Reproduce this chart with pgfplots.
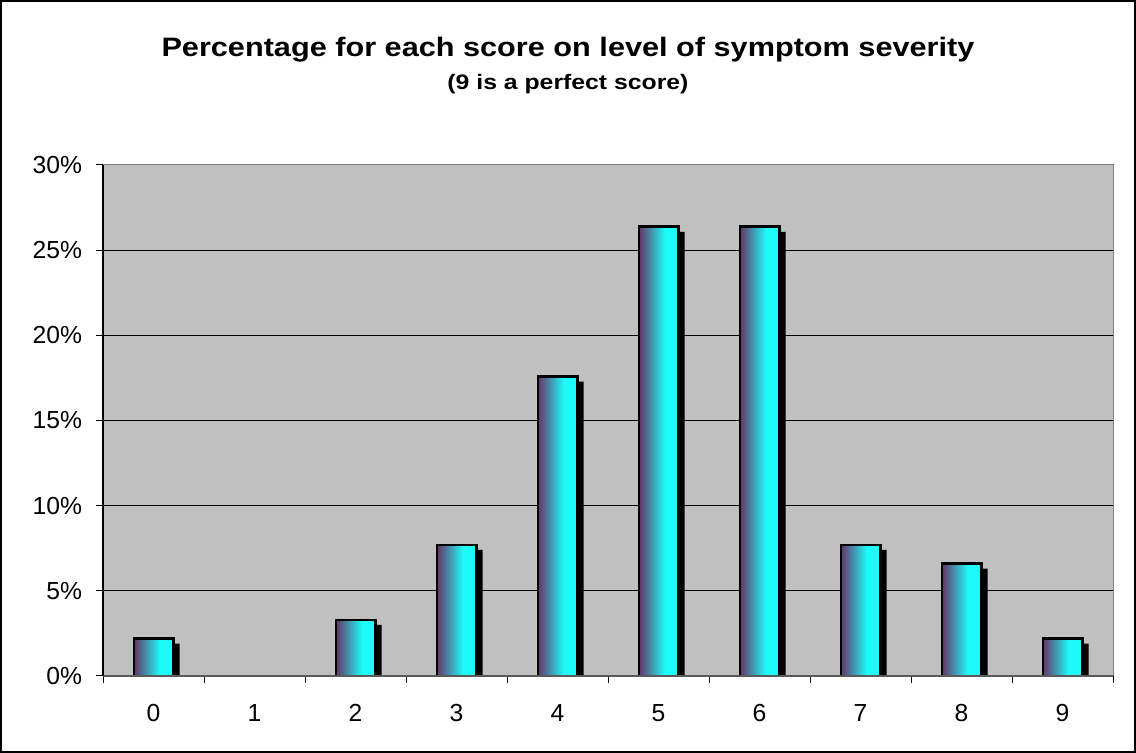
\documentclass[border=0pt]{standalone}
\usepackage{pgfplots}
\pgfplotsset{compat=1.18}
\usepackage{pgfplotstable}
\usepackage{fontspec}
\setmainfont{Liberation Sans}
\definecolor{barpurple}{RGB}{102,51,102}
\definecolor{barcyan}{RGB}{30,250,250}
\definecolor{plotbg}{RGB}{192,192,192}
\definecolor{framegray}{RGB}{128,128,128}
\definecolor{basegray}{RGB}{90,90,90}
\pgfdeclarehorizontalshading{barshade}{100bp}{color(0bp)=(barpurple); color(25bp)=(barpurple); color(58bp)=(barcyan); color(100bp)=(barcyan)}
\pgfplotstableread{
x y
0 2.198
1 0
2 3.297
3 7.692
4 17.582
5 26.374
6 26.374
7 7.692
8 6.593
9 2.198
}\scores
\begin{document}
\begin{tikzpicture}[x=1pt,y=1pt]
\path[use as bounding box] (0,0) rectangle (852,564.75);
\draw[black, line width=1pt] (0.75,0.75) rectangle (851.25,564);
\node[anchor=base, xscale=1.15, font=\bfseries\fontsize{20}{24}\selectfont] at (426,522.2) {Percentage for each score on level of symptom severity};
\node[anchor=base, xscale=1.18, font=\bfseries\fontsize{15.75}{19}\selectfont] at (426,497.3) {(9 is a perfect score)};
\begin{axis}[
  at={(77.25pt,57.75pt)}, anchor=south west,
  scale only axis, width=757.5pt, height=383.25pt,
  xmin=-0.5, xmax=9.5, ymin=0, ymax=30,
  axis background/.style={fill=plotbg},
  axis line style={framegray, line width=0.75pt},
  xtick={0,...,9}, xticklabels={0,1,2,3,4,5,6,7,8,9},
  minor xtick={-0.5,0.5,...,9.5},
  major x tick style={draw=none},
  minor x tick style={black, line width=0.75pt},
  ytick={0,5,...,30},
  yticklabels={0\%,5\%,10\%,15\%,20\%,25\%,30\%},
  major y tick style={black, line width=0.75pt},
  tick align=outside, tick pos=left,
  major tick length=5.25pt, minor tick length=5.25pt,
  ymajorgrids, major grid style={black, line width=0.75pt},
  ticklabel style={font=\fontsize{18.5}{22}\selectfont},
  /pgf/number format/assume math mode=true,
  xticklabel style={yshift=-12.5pt},
  yticklabel style={xshift=-7pt},
  after end axis/.code={
    \draw[basegray, line width=1.5pt] (axis cs:-0.5,0) -- (axis cs:9.5,0);
    \draw[black, line width=1pt] (axis cs:-0.5,0) -- (axis cs:-0.5,30);},
]
\addplot[ybar, bar width=31.5pt, bar shift=3.75pt, fill=black, draw=none,
  transform canvas={yshift=-3.75pt}] table[x=x,y=y] {\scores};
\pgfplotsinvokeforeach{0,2,3,4,5,6,7,8,9}{
\addplot[ybar, bar width=29.5pt, bar shift=0pt, draw=black, line width=2pt, shading=barshade]
  table[x=x,y=y, restrict x to domain=#1:#1] {\scores};
}
\end{axis}
\end{tikzpicture}
\end{document}
